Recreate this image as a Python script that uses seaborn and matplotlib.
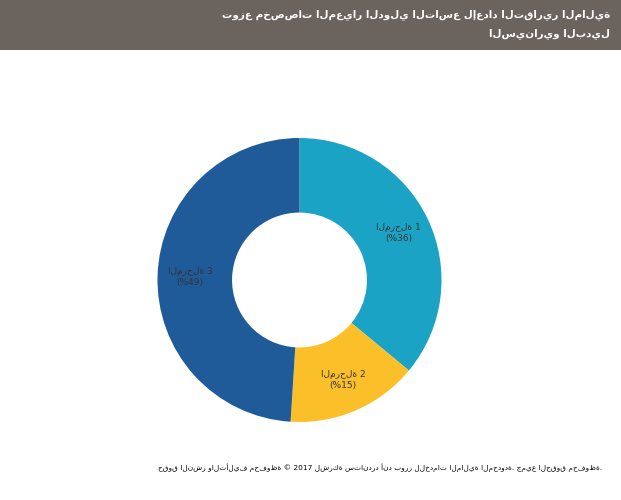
import matplotlib
matplotlib.use("Agg")
import matplotlib.pyplot as plt
import numpy as np
import seaborn as sns

sns.set_style("white")
plt.rcParams['font.family'] = ['DejaVu Sans']

# chart data
stages = ['المرحلة 1', 'المرحلة 2', 'المرحلة 3']
shares = [36, 15, 49]
colors = ['#1ba3c6', '#fbbf2a', '#1f5b98']
title_lines = ['توزع مخصصات المعيار الدولي التاسع لإعداد التقارير المالية',
               'السيناريو البديل']
footer = 'حقوق النشر والتأليف محفوظة © 2017 لشركة ستاندرد أند بورز للخدمات المالية المحدودة. جميع الحقوق محفوظة.'

fig = plt.figure(figsize=(6.21, 5.0), dpi=100)
W, H = 621, 500

# header band
band = fig.add_axes([0, 1 - 50 / H, 1, 50 / H])
band.set_facecolor('#6a635e')
band.set_xticks([])
band.set_yticks([])
for s in band.spines.values():
    s.set_visible(False)
for line, ypx in zip(title_lines, [15, 34]):
    fig.text(610 / W, 1 - ypx / H, line, ha='right', va='center',
             color='white', fontsize=7.5, fontweight='bold')

# donut
R = 142
cx, cy = 299.5, 280
ax = fig.add_axes([(cx - R) / W, (H - cy - R) / H, 2 * R / W, 2 * R / H])
ax.pie(shares, colors=colors, startangle=90, counterclock=False, radius=1,
       wedgeprops=dict(width=0.525, linewidth=0))
ax.set_xlim(-1, 1)
ax.set_ylim(-1, 1)
ax.set_aspect('equal')
ax.axis('off')

total = sum(shares)
cum = 0
for name, v in zip(stages, shares):
    ang = np.deg2rad(90 - 360 * (cum + v / 2) / total)
    cum += v
    r = 0.77
    ax.text(r * np.cos(ang), r * np.sin(ang), f'{name}\n(%{v})',
            ha='center', va='center', fontsize=6.5, color='#333333',
            linespacing=1.3)

fig.text(380 / W, 1 - 468 / H, footer, ha='center', va='center',
         fontsize=5.3, color='black')

fig.savefig('out.png', dpi=100)
